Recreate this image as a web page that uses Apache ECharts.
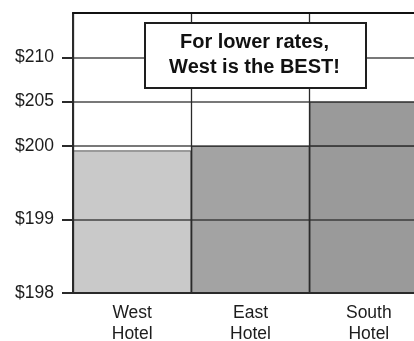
<!DOCTYPE html>
<html>
<head>
<meta charset="utf-8">
<script src="https://cdn.jsdelivr.net/npm/echarts@6/dist/echarts.min.js"></script>
<style>
  html, body { margin: 0; padding: 0; background: #fff; }
  #chart { width: 414px; height: 341px; }
</style>
</head>
<body>
<div id="chart"></div>
<script>
// Nightly room rates by hotel
const hotels = ['West\nHotel', 'East\nHotel', 'South\nHotel'];
const rates = [199.94, 200, 205];
const barColors = ['#c9c9c9', '#a3a3a3', '#9a9a9a'];

// The rate axis is split in two bands: $198–$200 (stretched) and $200–$215
const lowBandTicks = [198, 199, 200];
const highBandTicks = [205, 210];

const calloutLines = ['For lower rates,', 'West is the BEST!'];

const FONT = '"Liberation Sans", Arial, sans-serif';
const LINE = '#2a2a2a';

const chart = echarts.init(document.getElementById('chart'), null, { renderer: 'canvas' });

const barData = rates.map((v, i) => ({
  value: v,
  itemStyle: { color: barColors[i] }
}));

const yLabel = {
  fontFamily: FONT, fontSize: 17.5, color: '#1c1c1c', margin: 19,
  formatter: v => '$' + v
};

function barSeries(idx) {
  return {
    type: 'bar',
    xAxisIndex: idx, yAxisIndex: idx,
    data: barData,
    barWidth: '100%',
    clip: true,
    itemStyle: { borderColor: '#555', borderWidth: 1 },
    silent: true,
    z: 2
  };
}

chart.setOption({
  animation: false,
  grid: [
    { left: 73, width: 355, top: 146, height: 147, containLabel: false, outerBoundsMode: 'none' },
    { left: 73, width: 355, top: 13, height: 133, containLabel: false, outerBoundsMode: 'none' }
  ],
  xAxis: [
    {
      gridIndex: 0, type: 'category', data: hotels, position: 'bottom', z: 5,
      axisLine: { show: true, lineStyle: { color: LINE, width: 2 } },
      axisTick: { show: false },
      splitLine: { show: true, lineStyle: { color: LINE, width: 1.3 } },
      axisLabel: { fontFamily: FONT, fontSize: 17.5, color: '#1c1c1c', lineHeight: 21.5, margin: 9 }
    },
    {
      gridIndex: 1, type: 'category', data: hotels, position: 'top', z: 5,
      axisLine: { show: true, lineStyle: { color: '#111', width: 2 } },
      axisTick: { show: false },
      axisLabel: { show: false },
      splitLine: { show: true, lineStyle: { color: LINE, width: 1.3 } }
    }
  ],
  yAxis: [
    {
      gridIndex: 0, type: 'value', min: 198, max: 200, interval: 1, z: 5,
      axisLine: { show: true, lineStyle: { color: LINE, width: 2 } },
      axisTick: { show: true, length: 11, customValues: lowBandTicks, lineStyle: { color: LINE, width: 2 } },
      axisLabel: Object.assign({ customValues: lowBandTicks }, yLabel),
      splitLine: { show: true, lineStyle: { color: LINE, width: 1.5, opacity: 0.85 } }
    },
    {
      gridIndex: 1, type: 'value', min: 200, max: 215, interval: 5, z: 5,
      axisLine: { show: true, lineStyle: { color: LINE, width: 2 } },
      axisTick: { show: true, length: 11, customValues: highBandTicks, lineStyle: { color: LINE, width: 2 } },
      axisLabel: Object.assign({ customValues: highBandTicks }, yLabel),
      splitLine: { show: true, lineStyle: { color: LINE, width: 1.5, opacity: 0.85 } }
    }
  ],
  series: [barSeries(0), barSeries(1)],
  graphic: [
    {
      type: 'rect', left: 144, top: 22, z: 50, zlevel: 1,
      shape: { x: 0, y: 0, width: 221, height: 65 },
      style: { fill: '#fff', stroke: '#1e1e1e', lineWidth: 2 }
    },
    {
      type: 'text', x: 254.5, y: 54.5, z: 51, zlevel: 1,
      style: {
        text: calloutLines.join('\n'),
        fontFamily: FONT, fontSize: 20, fontWeight: 'bold',
        fill: '#111', align: 'center', verticalAlign: 'middle', lineHeight: 25
      }
    }
  ]
});
</script>
</body>
</html>
